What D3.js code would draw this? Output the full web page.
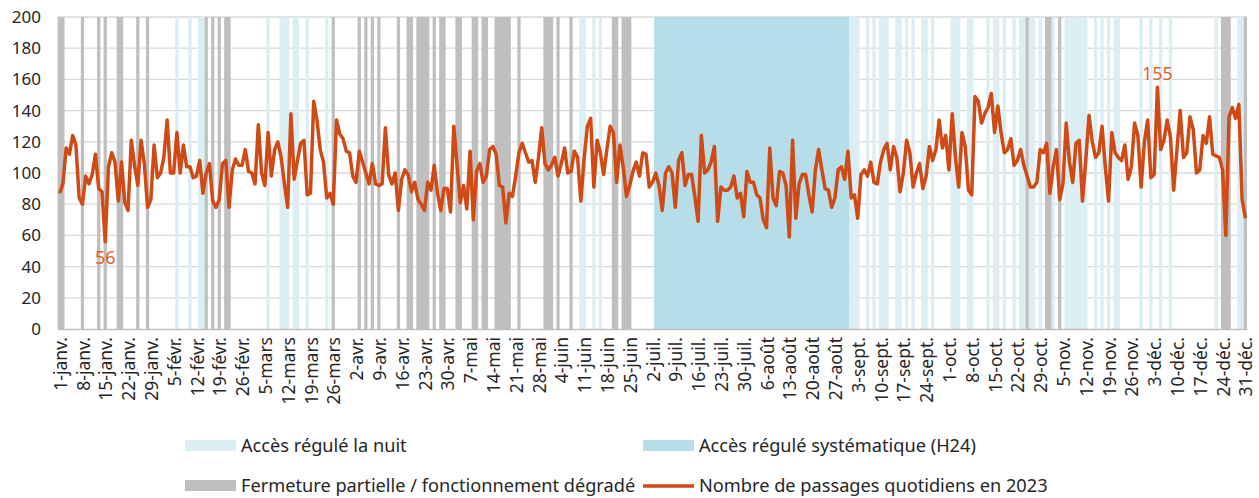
<!DOCTYPE html>
<html><head><meta charset="utf-8">
<script src="https://cdn.jsdelivr.net/npm/d3@7"></script>
<style>
body{margin:0;background:#fff}
svg{display:block}
text{font-family:"Noto Sans",sans-serif;fill:#262626}
</style>
</head><body><svg id="c" width="1259" height="498"></svg>
<script>
// Daily passages 2023 (index 0 = 1 janv.)
const values = [
87,93,116,112,124,118,84,80,98,93,99,112,90,88,56,104,113,107,82,107,
81,76,121,105,92,121,106,78,83,118,97,100,110,134,100,100,126,100,118,104,
104,97,98,108,87,100,106,82,78,83,106,108,78,102,109,105,105,115,101,100,
93,131,100,92,126,98,115,120,110,93,78,138,96,108,119,121,86,87,146,134,
115,107,84,87,80,134,125,122,114,113,98,94,114,107,100,93,106,93,92,93,
129,99,93,100,76,96,102,99,88,94,83,80,76,94,89,105,87,76,90,90,
75,130,105,81,92,77,114,70,101,106,94,98,115,117,112,92,91,68,87,85,
98,113,119,113,107,108,94,110,129,106,102,105,110,98,106,116,100,101,114,110,
82,109,130,135,91,121,113,99,115,130,126,94,118,104,85,92,101,107,98,113,
112,91,94,100,92,76,100,104,100,78,108,113,92,99,99,85,69,124,100,102,
107,117,69,91,89,89,91,98,84,87,72,101,94,94,86,84,70,65,116,84,
79,101,100,92,59,121,71,93,99,99,86,75,102,115,102,90,89,78,84,102,
104,96,114,84,86,71,99,102,98,107,94,93,107,115,119,102,117,110,88,100,
121,113,91,100,106,90,98,117,108,115,134,116,124,102,138,110,91,126,117,89,
86,149,146,132,138,142,151,126,143,126,113,115,122,105,108,115,105,98,91,91,
94,115,113,119,87,104,115,83,93,132,107,94,119,121,82,108,137,120,110,113,
130,104,82,126,113,110,108,118,96,104,132,124,91,120,134,97,99,155,115,121,
134,123,89,115,140,110,113,136,128,100,102,124,119,136,112,111,110,102,60,136,
142,135,144,83,71
];
const tickLabels = ["1-janv.","8-janv.","15-janv.","22-janv.","29-janv.","5-févr.","12-févr.","19-févr.","26-févr.","5-mars","12-mars","19-mars","26-mars","2-avr.","9-avr.","16-avr.","23-avr.","30-avr.","7-mai","14-mai","21-mai","28-mai","4-juin","11-juin","18-juin","25-juin","2-juil.","9-juil.","16-juil.","23-juil.","30-juil.","6-août","13-août","20-août","27-août","3-sept.","10-sept.","17-sept.","24-sept.","1-oct.","8-oct.","15-oct.","22-oct.","29-oct.","5-nov.","12-nov.","19-nov.","26-nov.","3-déc.","10-déc.","17-déc.","24-déc.","31-déc."];
const yTicks = [0,20,40,60,80,100,120,140,160,180,200];
// Day ranges [first, last] (day index)
const nightRanges = [[36,36],[40,40],[43,44],[64,64],[68,70],[72,73],[76,76],[82,82],[160,161],[164,164],[166,166],
 [243,245],[248,248],[250,250],[252,254],[257,258],[260,260],[262,262],[265,266],[268,268],[274,276],[279,280],[285,285],
 [287,288],[290,290],[293,293],[295,296],[298,299],[301,301],[305,305],[309,315],[318,318],[320,320],[322,322],[324,325],
 [332,332],[335,335],[338,338],[341,341],[355,355],[362,363]];
const h24Ranges = [[183,242]];
const closureRanges = [[0,1],[7,7],[12,12],[14,14],[18,19],[24,24],[27,27],[45,45],[47,47],[49,49],[51,52],[84,84],[92,92],
 [94,94],[96,96],[98,98],[104,104],[107,108],[110,113],[115,115],[117,118],[122,123],[127,128],[130,131],[134,138],[141,141],
 [149,151],[153,153],[157,157],[170,171],[173,175],[297,297],[303,304],[307,307],[357,359],[364,364]];
const annotations = [{day:14, text:"56", pos:"below"},{day:337, text:"155", pos:"above"}];

const C = {night:"#daeef3", h24:"#b7dde8", closure:"#bfbfbf", line:"#cf4a14", label:"#e0622a", grid:"#d9d9d9", axis:"#bfbfbf"};
const svg = d3.select("#c");
const L=58, R=1247, T=17, B=329;
const x = d3.scaleBand().domain(d3.range(values.length)).range([L,R]).paddingInner(0).paddingOuter(0);
const y = d3.scaleLinear().domain([0,200]).range([B,T]);
const bw = x.bandwidth();

// grid
svg.append("g").selectAll("line").data(yTicks.filter(d=>d>0)).join("line")
  .attr("x1",L).attr("x2",R).attr("y1",d=>y(d)).attr("y2",d=>y(d))
  .attr("stroke",C.grid).attr("stroke-width",1.3);

function bands(ranges,color){
  svg.append("g").selectAll("rect").data(ranges).join("rect")
   .attr("x",d=>x(d[0])).attr("width",d=>x(d[1])+bw-x(d[0]))
   .attr("y",T).attr("height",B-T).attr("fill",color);
}
bands(h24Ranges,C.h24);
bands(nightRanges,C.night);
bands(closureRanges,C.closure);

// y axis
const ya = svg.append("g").attr("transform",`translate(${L},0)`)
  .call(d3.axisLeft(y).tickValues(yTicks).tickSize(0).tickPadding(17));
ya.select(".domain").remove();
ya.selectAll("text").style("font-size","17px").attr("fill","#262626");

// x axis
const tickIdx = tickLabels.map((_,i)=>i*7);
const xa = svg.append("g").attr("transform",`translate(0,${B})`)
  .call(d3.axisBottom(x).tickValues(tickIdx).tickSize(0).tickFormat((d,i)=>tickLabels[i]));
xa.select(".domain").attr("stroke",C.axis).attr("stroke-width",1.5);
xa.selectAll("text").style("font-size","17.5px").attr("fill","#262626")
  .attr("text-anchor","end").attr("transform","rotate(-90)")
  .attr("x",-8).attr("y",1).attr("dy","0.35em");

// left axis line
svg.append("line").attr("x1",L).attr("x2",L).attr("y1",T).attr("y2",B).attr("stroke",C.axis).attr("stroke-width",1);

// line
const line = d3.line().x((d,i)=>x(i)+bw/2).y(d=>y(d));
svg.append("path").datum(values).attr("d",line).attr("fill","none")
  .attr("stroke",C.line).attr("stroke-width",3.5).attr("stroke-linejoin","round");

// annotations
svg.append("g").selectAll("text").data(annotations).join("text")
  .attr("x",d=>x(d.day)+bw/2).attr("y",d=>d.pos==="below"? y(values[d.day])+22 : y(values[d.day])-7)
  .attr("text-anchor","middle").style("font-size","18px").style("fill",C.label)
  .text(d=>d.text);

// legend
const legend = [
 {label:"Accès régulé la nuit", type:"rect", color:C.night, x:185, y:446},
 {label:"Accès régulé systématique (H24)", type:"rect", color:C.h24, x:643, y:446},
 {label:"Fermeture partielle / fonctionnement dégradé", type:"rect", color:C.closure, x:185, y:486},
 {label:"Nombre de passages quotidiens en 2023", type:"line", color:C.line, x:643, y:486}
];
const lg = svg.append("g").selectAll("g").data(legend).join("g").attr("transform",d=>`translate(${d.x},${d.y})`);
lg.filter(d=>d.type==="rect").append("rect").attr("x",0).attr("y",-6).attr("width",51).attr("height",11).attr("fill",d=>d.color);
lg.filter(d=>d.type==="line").append("line").attr("x1",0).attr("x2",51).attr("y1",0).attr("y2",0).attr("stroke",d=>d.color).attr("stroke-width",3.5);
lg.append("text").attr("x",56).attr("y",0).attr("dy","0.35em").style("font-size","18.2px").text(d=>d.label);
</script></body></html>
